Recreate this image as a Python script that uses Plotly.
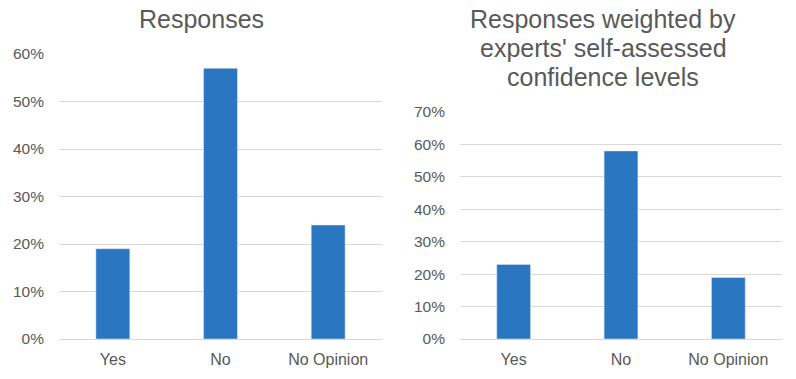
import plotly.graph_objects as go

categories = ["Yes", "No", "No Opinion"]
responses = [19, 57, 24]
weighted = [23, 58, 19]
left_ticks = [0, 10, 20, 30, 40, 50, 60]
right_ticks = [0, 10, 20, 30, 40, 50, 60, 70]
left_title = "Responses"
right_title_lines = ["Responses weighted by", "experts' self-assessed", "confidence levels"]

OFF = 8  # page body margin
W, H = 796 - OFF, 379 - OFF
BAR = "#2B76C1"
TXT = "#595959"
GRID = "#D9D9D9"
FONT = "Liberation Sans, Arial, sans-serif"


def px(v):
    return (v - OFF) / W


def py(v):
    return 1 - (v - OFF) / H


fig = go.Figure()
fig.add_trace(go.Bar(x=categories, y=responses, marker_color=BAR, xaxis="x", yaxis="y"))
fig.add_trace(go.Bar(x=categories, y=weighted, marker_color=BAR, xaxis="x2", yaxis="y2"))

axis_common = dict(showgrid=True, gridcolor=GRID, gridwidth=1, zeroline=True,
                   zerolinecolor=GRID, zerolinewidth=1, automargin=False,
                   tickfont=dict(size=15.5, color=TXT, family=FONT),
                   ticklabelstandoff=14, showline=False, fixedrange=True)
xcommon = dict(showgrid=False, zeroline=False, showline=False, automargin=False,
               tickfont=dict(size=16, color=TXT, family=FONT), ticklabelstandoff=9)

annots = [dict(text=left_title, x=px(201), y=py(19), xref="paper", yref="paper",
               xanchor="center", yanchor="middle", showarrow=False,
               font=dict(size=25, color=TXT, family=FONT))]
for i, line in enumerate(right_title_lines):
    annots.append(dict(text=line, x=px(603), y=py(19 + 29 * i),
                       xref="paper", yref="paper", xanchor="center", yanchor="middle",
                       showarrow=False, font=dict(size=25, color=TXT, family=FONT)))

fig.update_layout(
    width=W, height=H,
    margin=dict(l=0, r=0, t=0, b=0, autoexpand=False),
    paper_bgcolor="white", plot_bgcolor="white",
    showlegend=False, bargap=0.685,
    font=dict(family=FONT, color=TXT),
    xaxis=dict(domain=[px(59), px(382)], anchor="y", **xcommon),
    xaxis2=dict(domain=[px(460), px(782)], anchor="y2", **xcommon),
    yaxis=dict(domain=[py(339), py(54)], anchor="x", range=[0, 60],
               tickvals=left_ticks, ticktext=[f"{v}%" for v in left_ticks], **axis_common),
    yaxis2=dict(domain=[py(339), py(112)], anchor="x2", range=[0, 70],
                tickvals=right_ticks, ticktext=[f"{v}%" for v in right_ticks], **axis_common),
    annotations=annots,
)

fig.write_html("out.html")
